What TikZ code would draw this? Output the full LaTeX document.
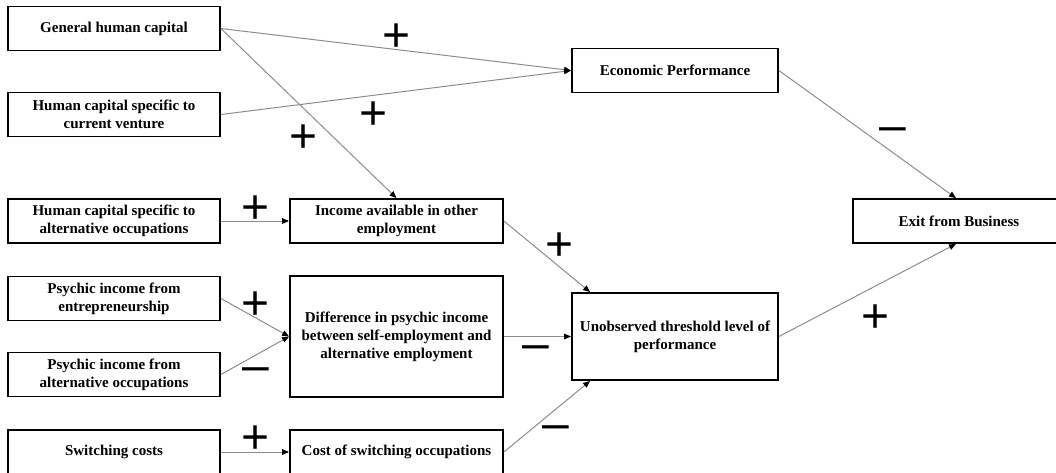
\documentclass[tikz,border=0pt]{standalone}
\usepackage{fontspec}
\setmainfont{Liberation Serif}
\setsansfont{Liberation Sans}
\usepackage{tikz}
\usetikzlibrary{arrows.meta,positioning,calc}

\begin{document}
\begin{tikzpicture}[x=0.5pt,y=-0.5pt,
    box/.style={draw=black, line width=0.9pt, inner sep=1pt, align=center,
        font=\bfseries\fontsize{7.5}{9}\selectfont},
    leftbox/.style={box, minimum width=106pt, minimum height=22pt},
    midbox/.style={box, minimum width=106.5pt, minimum height=22pt},
    rightbox/.style={box, minimum width=103pt, minimum height=22pt},
    link/.style={draw=black!45, line width=0.5pt,
        -{Triangle[length=3.5pt,width=2.8pt,color=black]}},
    sign/.style={inner sep=0pt, anchor=base, font=\sffamily\fontsize{24}{24}\selectfont},
    possign/.style={sign, yshift=-8.5pt},
    negsign/.style={sign, yshift=-5.9pt}]
    \useasboundingbox (0,0) rectangle (1056,472);

    \node[leftbox] (general) at (114,28.5) {General human capital};
    \node[leftbox] (current) at (114,114.5) {Human capital specific to\\current venture};
    \node[leftbox] (altspec) at (114,221) {Human capital specific to\\alternative occupations};
    \node[leftbox] (psyent) at (114,298.5) {Psychic income from\\entrepreneurship};
    \node[leftbox] (psyalt) at (114,374.5) {Psychic income from\\alternative occupations};
    \node[leftbox] (switch) at (114,452) {Switching costs};

    \node[midbox] (income) at (396.5,221) {Income available in other\\employment};
    \node[midbox, minimum height=60.5pt] (diff) at (396.5,336.5)
        {Difference in psychic income\\between self-employment and\\alternative employment};
    \node[midbox] (cost) at (396.5,452) {Cost of switching occupations};

    \node[rightbox] (econ) at (675,70.5) {Economic Performance};
    \node[rightbox, minimum height=43.5pt] (unobs) at (675,336.5)
        {Unobserved threshold level of\\performance};
    \node[box, minimum width=106pt, minimum height=22pt] (exit) at (959,221) {Exit from Business};

    \draw[link] (general.east) -- (econ.west);
    \draw[link] (current.east) -- (econ.west);
    \draw[link] (general.east) -- (income.north);
    \draw[link] (altspec.east) -- (income.west);
    \draw[link] (income.east) -- ([xshift=9.5pt]unobs.north west);
    \draw[link] (psyent.east) -- (diff.west);
    \draw[link] (psyalt.east) -- (diff.west);
    \draw[link] (switch.east) -- (cost.west);
    \draw[link] (diff.east) -- (unobs.west);
    \draw[link] (cost.east) -- ([xshift=9.5pt]unobs.south west);
    \draw[link] (econ.east) -- ([xshift=-1.5pt]exit.north);
    \draw[link] (unobs.east) -- ([xshift=-1.5pt]exit.south);

    \node[possign] (s1) at (397,34) {+};
    \node[possign] (s2) at (374,112) {+};
    \node[possign] (s3) at (304,135) {+};
    \node[possign] (s4) at (256,206) {+};
    \node[possign] (s5) at (560,243) {+};
    \node[possign] (s6) at (256,302) {+};
    \node[negsign] (s7) at (256,370) {\textendash};
    \node[negsign] (s8) at (536,348) {\textendash};
    \node[possign] (s9) at (256,436) {+};
    \node[negsign] (s10) at (556,428) {\textendash};
    \node[negsign] (s11) at (893,130) {\textendash};
    \node[possign] (s12) at (876,315) {+};
\end{tikzpicture}
\end{document}
